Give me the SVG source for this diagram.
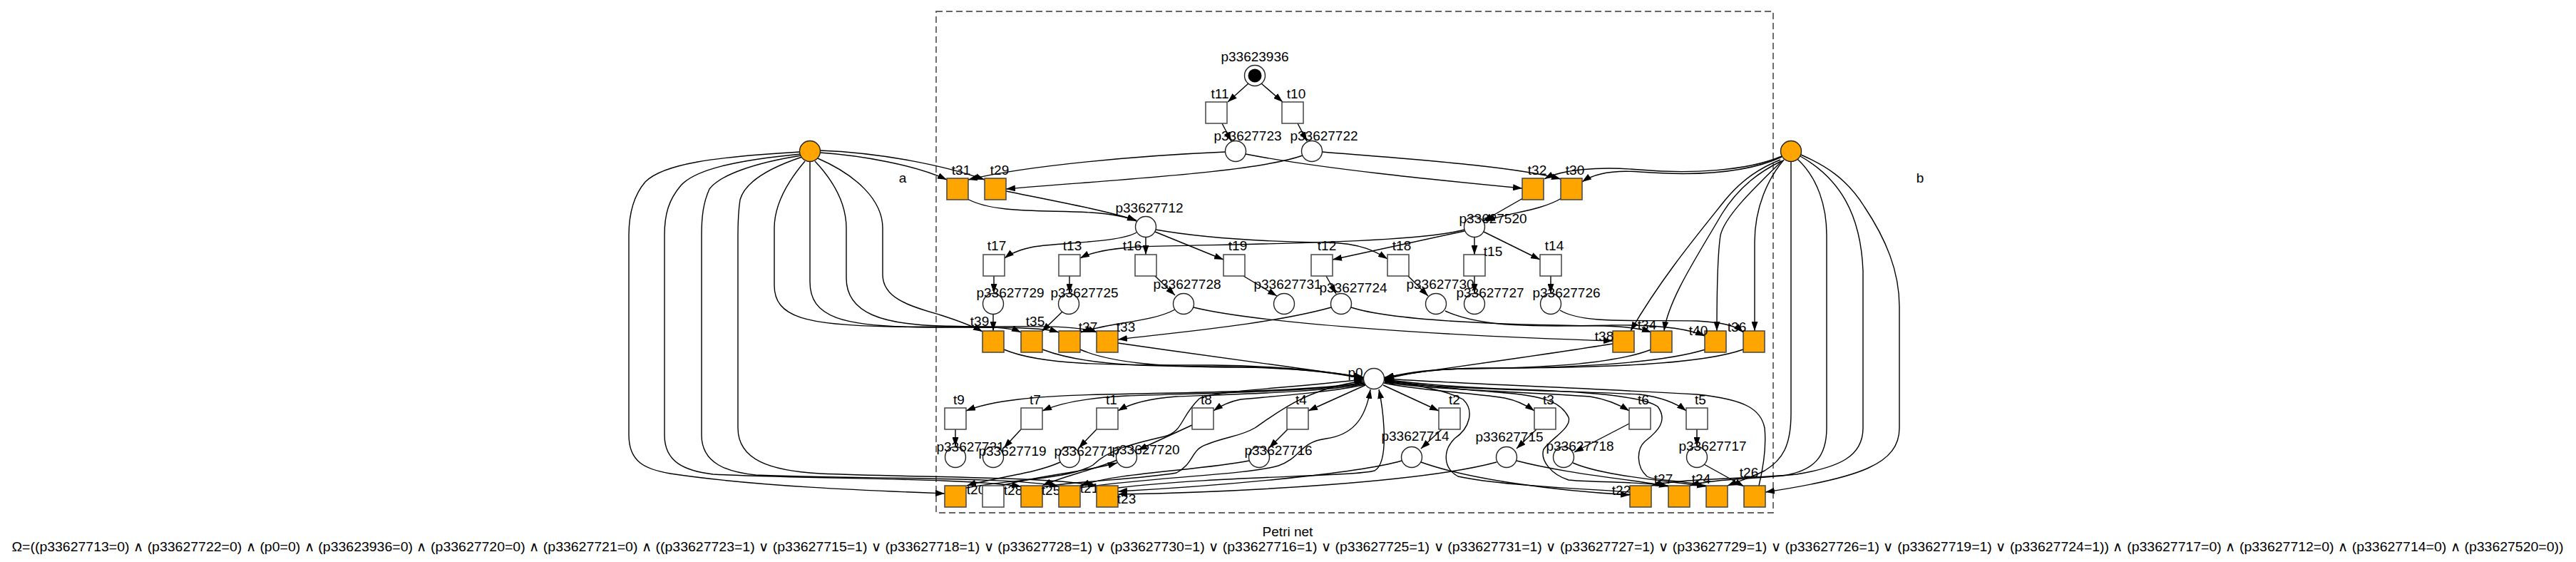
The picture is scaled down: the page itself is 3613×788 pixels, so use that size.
<svg xmlns="http://www.w3.org/2000/svg" width="3613" height="788" viewBox="0 0 3613 788">
<style>
.t{fill:#fff;stroke:#444;stroke-width:1.5}
.o{fill:#FFA500;stroke:#444;stroke-width:1.5}
.p{fill:#fff;stroke:#222;stroke-width:1.4}
.po{fill:#FFA500;stroke:#222;stroke-width:1.4}
.l{font-family:"Liberation Sans",Arial,sans-serif;font-size:19px;text-anchor:middle;fill:#000}
#edges path{fill:none;stroke:#000;stroke-width:1.4;marker-end:url(#ah)}
</style>
<defs>
<marker id="ah" markerWidth="13" markerHeight="9" refX="13" refY="4.5" orient="auto" markerUnits="userSpaceOnUse"><path d="M0,0 L13,4.5 L0,9 z" fill="#000"/></marker>
</defs>
<rect width="3613" height="788" fill="#fff"/>
<rect id="cluster" x="1313" y="16" width="1174" height="703" fill="none" stroke="#333" stroke-width="1.4" stroke-dasharray="9,5"/>
<g id="edges">
<path d="M1751,117 L1722,143"/>
<path d="M1769,117 L1799,143"/>
<path d="M1714,173 L1727,198"/>
<path d="M1820,173 L1833,198"/>
<path d="M1150,214 C1210,218 1285,232 1328,252"/>
<path d="M1150,211 C1235,214 1325,232 1381,252"/>
<path d="M1719,213 C1600,218 1440,232 1358,252"/>
<path d="M1827,218 C1760,242 1560,252 1411,265"/>
<path d="M1747,216 C1850,236 2010,252 2135,264"/>
<path d="M1855,213 C1960,222 2120,232 2189,251"/>
<path d="M2499,219 C2450,240 2370,244 2300,238 C2240,233 2190,238 2166,251"/>
<path d="M2499,220 C2450,243 2380,247 2300,241 C2260,238 2235,244 2219,255"/>
<path d="M1357,279 C1395,300 1470,294 1530,298 C1560,300 1580,304 1594,310"/>
<path d="M1411,268 C1480,282 1550,295 1594,309"/>
<path d="M2136,278 L2080,310"/>
<path d="M2190,278 C2160,296 2115,298 2084,310"/>
<path d="M1607,333 L1607,357"/>
<path d="M1620,325 L1716,364"/>
<path d="M1621,322 C1700,336 1790,339 1860,340 C1910,341 1930,353 1946,363"/>
<path d="M1594,326 C1570,340 1490,340 1450,346 C1430,350 1418,355 1409,362"/>
<path d="M2054,322 C1980,342 1720,342 1600,346 C1560,348 1530,354 1515,362"/>
<path d="M2054,324 L1869,364"/>
<path d="M2068,333 L2068,357"/>
<path d="M2081,325 L2160,364"/>
<path d="M1394,387 L1394,411"/>
<path d="M1500,387 L1500,411"/>
<path d="M1620,387 L1648,414"/>
<path d="M1744,387 L1791,415"/>
<path d="M1860,387 L1874,412"/>
<path d="M1975,387 L2003,415"/>
<path d="M2068,387 L2068,411"/>
<path d="M2175,387 L2175,411"/>
<path d="M1393,441 L1393,464"/>
<path d="M1490,437 L1461,465"/>
<path d="M1648,434 C1615,452 1555,452 1516,466"/>
<path d="M1867,431 C1780,455 1650,466 1568,476"/>
<path d="M1674,431 C1760,452 2000,470 2262,478"/>
<path d="M1895,431 C1960,452 2150,456 2250,457 C2285,458 2305,462 2316,466"/>
<path d="M2027,436 C2080,460 2160,458 2260,456 C2340,455 2375,464 2391,471"/>
<path d="M2188,435 C2220,455 2300,448 2380,450 C2420,452 2436,458 2445,466"/>
<path d="M1147,222 C1200,245 1238,280 1238,320 L1238,385 C1238,420 1280,430 1320,442 C1345,450 1362,456 1378,465"/>
<path d="M1143,226 C1175,260 1187,290 1187,320 L1187,390 C1187,440 1240,455 1320,457 C1380,458 1415,458 1432,466"/>
<path d="M1136,227 L1136,395 C1136,445 1180,458 1300,459 C1400,459 1460,458 1485,466"/>
<path d="M1129,226 C1100,260 1086,290 1086,320 L1086,400 C1086,445 1130,456 1250,458 C1400,460 1500,452 1539,466"/>
<path d="M1408,490 C1460,512 1550,512 1700,512 C1800,513 1870,522 1912,529"/>
<path d="M1462,490 C1520,512 1600,514 1720,514 C1820,515 1875,523 1912,530"/>
<path d="M1515,490 C1560,510 1640,515 1740,515 C1830,516 1880,524 1913,531"/>
<path d="M1568,481 C1700,500 1850,520 1913,529"/>
<path d="M2262,482 C2150,500 2000,520 1942,529"/>
<path d="M2316,490 C2260,512 2150,516 2050,517 C2000,518 1965,524 1942,530"/>
<path d="M2392,490 C2320,512 2180,516 2060,517 C2000,518 1965,525 1942,531"/>
<path d="M2445,490 C2380,513 2220,516 2080,516 C2000,517 1965,526 1942,532"/>
<path d="M1913,536 C1850,548 1700,550 1550,553 C1450,555 1390,562 1355,576"/>
<path d="M1913,537 C1850,549 1700,551 1580,555 C1520,558 1485,566 1462,576"/>
<path d="M1914,538 C1860,550 1720,553 1650,556 C1610,559 1585,566 1568,576"/>
<path d="M1915,539 C1870,550 1780,556 1740,560 C1725,563 1712,569 1702,576"/>
<path d="M1915,540 L1835,576"/>
<path d="M1940,540 L2018,576"/>
<path d="M1941,537 C1990,548 2080,552 2110,558 C2130,562 2142,569 2152,576"/>
<path d="M1942,536 C2000,546 2150,550 2230,556 C2255,560 2272,568 2285,576"/>
<path d="M1942,535 C2010,545 2200,548 2300,553 C2330,557 2352,566 2365,576"/>
<path d="M1340,602 L1340,626"/>
<path d="M1432,602 L1408,628"/>
<path d="M1538,602 L1513,628"/>
<path d="M1672,596 L1596,631"/>
<path d="M1806,602 L1780,628"/>
<path d="M2022,602 L1993,629"/>
<path d="M2155,602 L2127,629"/>
<path d="M2285,594 L2208,634"/>
<path d="M2380,602 L2380,626"/>
<path d="M1487,648 C1450,665 1390,670 1356,681"/>
<path d="M1405,681 C1450,668 1520,662 1567,649"/>
<path d="M1567,645 C1530,660 1490,668 1462,681"/>
<path d="M1752,646 C1680,660 1570,662 1515,681"/>
<path d="M1966,646 C1900,665 1700,682 1568,689"/>
<path d="M2099,648 C2000,675 1750,690 1568,693"/>
<path d="M1993,648 C2060,672 2180,688 2286,694"/>
<path d="M2127,646 C2200,665 2290,672 2340,682"/>
<path d="M2206,649 C2250,668 2340,674 2393,682"/>
<path d="M2390,651 L2446,682"/>
<path d="M1122,213 C1000,220 930,230 905,255 C888,275 882,300 882,330 L882,610 C882,648 905,658 940,664 C1060,682 1220,688 1325,692"/>
<path d="M1123,216 C1030,225 975,238 955,260 C938,280 932,300 932,330 L932,610 C932,648 960,660 1000,665 C1150,672 1350,670 1432,682"/>
<path d="M1124,218 C1060,228 1010,245 995,265 C986,285 984,305 984,330 L984,610 C984,650 1020,662 1060,666 C1200,672 1420,668 1485,682"/>
<path d="M1125,220 C1080,235 1045,255 1038,280 C1035,300 1035,315 1035,330 L1035,600 C1035,645 1080,660 1150,664 C1300,670 1480,668 1539,682"/>
<path d="M1355,684 C1420,672 1500,672 1533,652 C1555,630 1590,622 1633,612 C1660,605 1655,585 1682,559 C1700,548 1800,545 1912,532"/>
<path d="M1462,683 C1500,675 1600,672 1650,663 C1675,650 1670,630 1693,623 C1720,612 1740,612 1760,600 C1790,580 1830,545 1913,534"/>
<path d="M1515,684 C1600,670 1750,666 1793,653 C1825,642 1822,620 1860,615 C1895,610 1915,590 1922,546"/>
<path d="M1568,684 C1700,668 1900,668 1928,660 C1942,652 1942,620 1941,600 C1940,580 1937,560 1934,546"/>
<path d="M2286,690 C2200,684 2100,680 2045,668 C2022,655 2025,630 2040,615 C2062,600 2068,575 2052,560 C2030,548 1990,540 1942,534"/>
<path d="M2340,681 C2300,675 2220,676 2200,673 C2175,665 2160,645 2165,630 C2175,615 2205,600 2200,585 C2190,565 2170,555 2100,550 C2030,545 1980,538 1942,533"/>
<path d="M2393,681 C2350,672 2320,674 2310,668 C2295,655 2295,630 2307,619 C2325,605 2340,590 2325,570 C2300,553 2200,548 2100,545 C2030,542 1980,537 1942,532"/>
<path d="M2467,681 C2472,660 2478,630 2475,600 C2470,575 2450,560 2380,553 C2200,543 2050,538 1942,531"/>
<path d="M2512,227 L2512,580 C2512,625 2500,645 2475,660 C2455,670 2440,674 2423,681"/>
<path d="M2521,223 C2550,250 2562,290 2562,330 L2562,600 C2562,640 2545,660 2500,667 C2450,672 2400,672 2370,681"/>
<path d="M2525,219 C2580,250 2610,300 2613,380 L2613,600 C2613,640 2580,655 2520,665 C2450,672 2360,670 2316,681"/>
<path d="M2526,217 C2560,232 2590,250 2615,290 C2645,335 2664,380 2664,430 L2664,600 C2664,650 2610,670 2476,690"/>
<path d="M2497,224 C2470,235 2445,250 2420,280 C2380,330 2330,390 2287,464"/>
<path d="M2498,226 C2470,240 2440,260 2415,300 C2380,360 2340,420 2334,464"/>
<path d="M2500,225 C2470,255 2420,300 2413,330 C2410,350 2408,400 2408,464"/>
<path d="M2502,224 C2480,250 2461,290 2461,340 L2461,464"/>
</g>
<g id="p33623936"><circle class="p" cx="1760" cy="106" r="14.5"/><circle cx="1760" cy="106" r="9.5" fill="#000"/><text class="l" x="1760" y="86">p33623936</text></g>
<g id="t11"><rect class="t" x="1691" y="143" width="30" height="30"/><text class="l" x="1711" y="138">t11</text></g>
<g id="t10"><rect class="t" x="1798" y="143" width="30" height="30"/><text class="l" x="1818" y="138">t10</text></g>
<g id="p33627723"><circle class="p" cx="1733" cy="212" r="14.5"/><text class="l" x="1750" y="197">p33627723</text></g>
<g id="p33627722"><circle class="p" cx="1840" cy="212" r="14.5"/><text class="l" x="1857" y="197">p33627722</text></g>
<g id="pa"><circle class="po" cx="1136" cy="212" r="14.5"/><text class="l" x="1266" y="256">a</text></g>
<g id="pb"><circle class="po" cx="2512" cy="212" r="14.5"/><text class="l" x="2693" y="256">b</text></g>
<g id="t31"><rect class="o" x="1328" y="250" width="30" height="30"/><text class="l" x="1348" y="245">t31</text></g>
<g id="t29"><rect class="o" x="1381" y="250" width="30" height="30"/><text class="l" x="1402" y="245">t29</text></g>
<g id="t32"><rect class="o" x="2135" y="250" width="30" height="30"/><text class="l" x="2156" y="245">t32</text></g>
<g id="t30"><rect class="o" x="2189" y="250" width="30" height="30"/><text class="l" x="2209" y="245">t30</text></g>
<g id="p33627712"><circle class="p" cx="1607" cy="318" r="14.5"/><text class="l" x="1612" y="298">p33627712</text></g>
<g id="p33627520"><circle class="p" cx="2068" cy="318" r="14.5"/><text class="l" x="2094" y="313">p33627520</text></g>
<g id="t17"><rect class="t" x="1379" y="357" width="30" height="30"/><text class="l" x="1398" y="351">t17</text></g>
<g id="t13"><rect class="t" x="1485" y="357" width="30" height="30"/><text class="l" x="1504" y="351">t13</text></g>
<g id="t16"><rect class="t" x="1592" y="357" width="30" height="30"/><text class="l" x="1588" y="351">t16</text></g>
<g id="t19"><rect class="t" x="1716" y="357" width="30" height="30"/><text class="l" x="1736" y="351">t19</text></g>
<g id="t12"><rect class="t" x="1839" y="357" width="30" height="30"/><text class="l" x="1861" y="351">t12</text></g>
<g id="t18"><rect class="t" x="1946" y="357" width="30" height="30"/><text class="l" x="1966" y="351">t18</text></g>
<g id="t15"><rect class="t" x="2053" y="357" width="30" height="30"/><text class="l" x="2094" y="359">t15</text></g>
<g id="t14"><rect class="t" x="2160" y="357" width="30" height="30"/><text class="l" x="2180" y="351">t14</text></g>
<g id="p33627729"><circle class="p" cx="1393" cy="426" r="14.5"/><text class="l" x="1417" y="417">p33627729</text></g>
<g id="p33627725"><circle class="p" cx="1499" cy="426" r="14.5"/><text class="l" x="1521" y="417">p33627725</text></g>
<g id="p33627728"><circle class="p" cx="1660" cy="426" r="14.5"/><text class="l" x="1665" y="405">p33627728</text></g>
<g id="p33627731"><circle class="p" cx="1801" cy="426" r="14.5"/><text class="l" x="1806" y="405">p33627731</text></g>
<g id="p33627724"><circle class="p" cx="1881" cy="426" r="14.5"/><text class="l" x="1898" y="410">p33627724</text></g>
<g id="p33627730"><circle class="p" cx="2014" cy="426" r="14.5"/><text class="l" x="2020" y="405">p33627730</text></g>
<g id="p33627727"><circle class="p" cx="2068" cy="426" r="14.5"/><text class="l" x="2090" y="417">p33627727</text></g>
<g id="p33627726"><circle class="p" cx="2175" cy="426" r="14.5"/><text class="l" x="2197" y="417">p33627726</text></g>
<g id="t39"><rect class="o" x="1378" y="464" width="30" height="30"/><text class="l" x="1374" y="457">t39</text></g>
<g id="t35"><rect class="o" x="1432" y="464" width="30" height="30"/><text class="l" x="1452" y="457">t35</text></g>
<g id="t37"><rect class="o" x="1485" y="464" width="30" height="30"/><text class="l" x="1526" y="465">t37</text></g>
<g id="t33"><rect class="o" x="1538" y="464" width="30" height="30"/><text class="l" x="1579" y="465">t33</text></g>
<g id="t38"><rect class="o" x="2262" y="464" width="30" height="30"/><text class="l" x="2250" y="478">t38</text></g>
<g id="t34"><rect class="o" x="2315" y="464" width="30" height="30"/><text class="l" x="2310" y="462">t34</text></g>
<g id="t40"><rect class="o" x="2391" y="464" width="30" height="30"/><text class="l" x="2382" y="470">t40</text></g>
<g id="t36"><rect class="o" x="2445" y="464" width="30" height="30"/><text class="l" x="2436" y="465">t36</text></g>
<g id="p0"><circle class="p" cx="1927" cy="531" r="14.5"/><text class="l" x="1901" y="529">p0</text></g>
<g id="t9"><rect class="t" x="1325" y="572" width="30" height="30"/><text class="l" x="1345" y="567">t9</text></g>
<g id="t7"><rect class="t" x="1432" y="572" width="30" height="30"/><text class="l" x="1452" y="567">t7</text></g>
<g id="t1"><rect class="t" x="1538" y="572" width="30" height="30"/><text class="l" x="1559" y="567">t1</text></g>
<g id="t8"><rect class="t" x="1672" y="572" width="30" height="30"/><text class="l" x="1692" y="567">t8</text></g>
<g id="t4"><rect class="t" x="1805" y="572" width="30" height="30"/><text class="l" x="1825" y="567">t4</text></g>
<g id="t2"><rect class="t" x="2018" y="572" width="30" height="30"/><text class="l" x="2040" y="567">t2</text></g>
<g id="t3"><rect class="t" x="2152" y="572" width="30" height="30"/><text class="l" x="2172" y="567">t3</text></g>
<g id="t6"><rect class="t" x="2285" y="572" width="30" height="30"/><text class="l" x="2305" y="567">t6</text></g>
<g id="t5"><rect class="t" x="2365" y="572" width="30" height="30"/><text class="l" x="2385" y="567">t5</text></g>
<g id="p33627721"><circle class="p" cx="1340" cy="641" r="14.5"/><text class="l" x="1361" y="633">p33627721</text></g>
<g id="p33627719"><circle class="p" cx="1393" cy="641" r="14.5"/><text class="l" x="1420" y="639">p33627719</text></g>
<g id="p33627713"><circle class="p" cx="1500" cy="641" r="14.5"/><text class="l" x="1526" y="639">p33627713</text></g>
<g id="p33627720"><circle class="p" cx="1580" cy="641" r="14.5"/><text class="l" x="1607" y="637">p33627720</text></g>
<g id="p33627716"><circle class="p" cx="1766" cy="641" r="14.5"/><text class="l" x="1793" y="638">p33627716</text></g>
<g id="p33627714"><circle class="p" cx="1980" cy="641" r="14.5"/><text class="l" x="1985" y="618">p33627714</text></g>
<g id="p33627715"><circle class="p" cx="2113" cy="641" r="14.5"/><text class="l" x="2117" y="619">p33627715</text></g>
<g id="p33627718"><circle class="p" cx="2193" cy="641" r="14.5"/><text class="l" x="2216" y="632">p33627718</text></g>
<g id="p33627717"><circle class="p" cx="2380" cy="641" r="14.5"/><text class="l" x="2402" y="632">p33627717</text></g>
<g id="t20"><rect class="o" x="1325" y="681" width="30" height="30"/><text class="l" x="1369" y="693">t20</text></g>
<g id="t28"><rect class="t" x="1378" y="681" width="30" height="30"/><text class="l" x="1421" y="694">t28</text></g>
<g id="t25"><rect class="o" x="1432" y="681" width="30" height="30"/><text class="l" x="1474" y="694">t25</text></g>
<g id="t21"><rect class="o" x="1485" y="681" width="30" height="30"/><text class="l" x="1528" y="691">t21</text></g>
<g id="t23"><rect class="o" x="1538" y="681" width="30" height="30"/><text class="l" x="1580" y="706">t23</text></g>
<g id="t22"><rect class="o" x="2286" y="681" width="30" height="30"/><text class="l" x="2274" y="694">t22</text></g>
<g id="t27"><rect class="o" x="2340" y="681" width="30" height="30"/><text class="l" x="2333" y="678">t27</text></g>
<g id="t24"><rect class="o" x="2393" y="681" width="30" height="30"/><text class="l" x="2386" y="678">t24</text></g>
<g id="t26"><rect class="o" x="2446" y="681" width="30" height="30"/><text class="l" x="2453" y="669">t26</text></g>
<g id="caption">
<text class="l" x="1806" y="752">Petri net</text>
<text class="l" x="1806" y="773" textLength="3579" lengthAdjust="spacingAndGlyphs">Ω=((p33627713=0) ∧ (p33627722=0) ∧ (p0=0) ∧ (p33623936=0) ∧ (p33627720=0) ∧ (p33627721=0) ∧ ((p33627723=1) ∨ (p33627715=1) ∨ (p33627718=1) ∨ (p33627728=1) ∨ (p33627730=1) ∨ (p33627716=1) ∨ (p33627725=1) ∨ (p33627731=1) ∨ (p33627727=1) ∨ (p33627729=1) ∨ (p33627726=1) ∨ (p33627719=1) ∨ (p33627724=1)) ∧ (p33627717=0) ∧ (p33627712=0) ∧ (p33627714=0) ∧ (p33627520=0))</text>
</g>
</svg>
